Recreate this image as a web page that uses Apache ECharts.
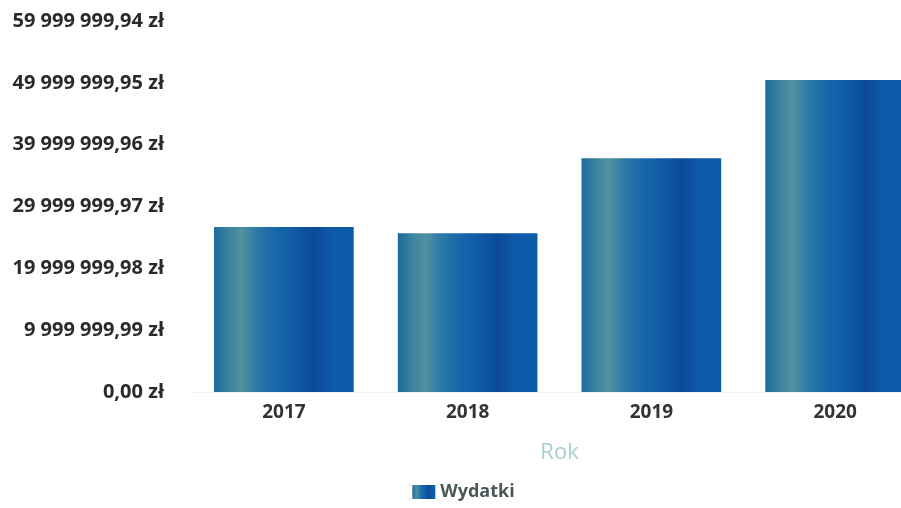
<!DOCTYPE html>
<html><head><meta charset="utf-8">
<script src="https://cdn.jsdelivr.net/npm/echarts@6/dist/echarts.min.js"></script>
<style>html,body{margin:0;padding:0;background:#fff;overflow:hidden}#c{width:927px;height:508px}</style>
</head><body><div id="c"></div>
<script>
var categories = ['2017', '2018', '2019', '2020'];
var wydatki = [26680000, 25670000, 37800000, 50460000];
var yMax = 59999999.94;
var yStep = 9999999.99;

function fmtPl(v) {
  var s = v.toFixed(2).split('.');
  var ip = s[0].replace(/\B(?=(\d{3})+(?!\d))/g, ' ');
  return ip + ',' + s[1] + ' zł';
}

var grad = new echarts.graphic.LinearGradient(0, 0, 1, 0, [
  {offset: 0, color: '#1b6a9c'},
  {offset: 0.1, color: '#3a839e'},
  {offset: 0.2, color: '#5391a0'},
  {offset: 0.3, color: '#2d7aa4'},
  {offset: 0.45, color: '#1666ac'},
  {offset: 0.6, color: '#0f58a4'},
  {offset: 0.72, color: '#0b4b95'},
  {offset: 0.85, color: '#0d5aab'},
  {offset: 1, color: '#0e5ba8'}
]);

var chart = echarts.init(document.getElementById('c'));
chart.setOption({
  animation: false,
  textStyle: {fontFamily: 'Open Sans'},
  grid: {left: 192, top: 21, right: 0, bottom: 116, containLabel: false},
  legend: {
    data: ['Wydatki'], bottom: 2, left: 'center',
    itemWidth: 23, itemHeight: 14, icon: 'rect', itemGap: 5,
    textStyle: {color: '#4a5858', fontWeight: 'bold', fontSize: 18, fontFamily: 'Open Sans'}
  },
  xAxis: {
    type: 'category', data: categories,
    name: 'Rok', nameLocation: 'middle', nameGap: 50,
    nameTextStyle: {color: '#a9cdd4', fontSize: 22, fontFamily: 'Open Sans'},
    axisLine: {show: true, lineStyle: {color: '#f2eeee'}},
    axisTick: {show: false},
    axisLabel: {color: '#333333', fontWeight: 'bold', fontSize: 19, margin: 11}
  },
  yAxis: {
    type: 'value', min: 0, max: yMax, interval: yStep,
    splitLine: {show: false},
    axisLine: {show: false}, axisTick: {show: false},
    axisLabel: {
      color: '#2a2a2a', fontWeight: 'bold', fontSize: 20, margin: 28,
      formatter: function (v) { return fmtPl(v); }
    }
  },
  series: [{
    name: 'Wydatki', type: 'bar', data: wydatki,
    barWidth: '76%',
    itemStyle: {color: grad}
  }]
});
</script></body></html>
